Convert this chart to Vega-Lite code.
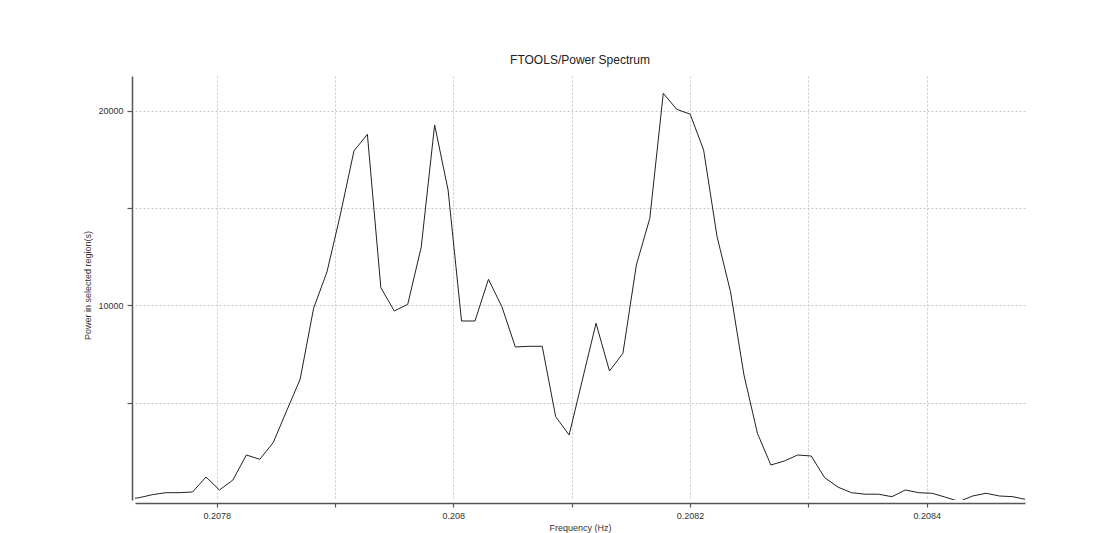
{
  "$schema": "https://vega.github.io/schema/vega-lite/v6.json",
  "autosize": "none",
  "padding": {"left": 135, "top": 76, "right": 87, "bottom": 33},
  "width": 890,
  "height": 424,
  "background": "white",
  "title": {
    "text": "FTOOLS/Power Spectrum",
    "font": "Liberation Sans",
    "fontSize": 12,
    "fontWeight": "normal",
    "color": "#222222",
    "anchor": "middle",
    "baseline": "alphabetic",
    "offset": 0
  },
  "data": {
    "values": [
      {"freq": 0.20772278, "power": 51},
      {"freq": 0.20773415, "power": 113},
      {"freq": 0.20774552, "power": 272},
      {"freq": 0.20775688, "power": 375},
      {"freq": 0.20776825, "power": 375},
      {"freq": 0.20777961, "power": 411},
      {"freq": 0.20779098, "power": 1181},
      {"freq": 0.20780235, "power": 514},
      {"freq": 0.20781371, "power": 1027},
      {"freq": 0.20782508, "power": 2312},
      {"freq": 0.20783644, "power": 2091},
      {"freq": 0.20784781, "power": 2949},
      {"freq": 0.20785918, "power": 4587},
      {"freq": 0.20787054, "power": 6200},
      {"freq": 0.20788191, "power": 9848},
      {"freq": 0.20789327, "power": 11728},
      {"freq": 0.20790464, "power": 14692},
      {"freq": 0.20791601, "power": 17928},
      {"freq": 0.20792737, "power": 18786},
      {"freq": 0.20793874, "power": 10906},
      {"freq": 0.20795010, "power": 9709},
      {"freq": 0.20796147, "power": 10053},
      {"freq": 0.20797284, "power": 12981},
      {"freq": 0.20798420, "power": 19264},
      {"freq": 0.20799557, "power": 15925},
      {"freq": 0.20800693, "power": 9195},
      {"freq": 0.20801830, "power": 9195},
      {"freq": 0.20802967, "power": 11337},
      {"freq": 0.20804103, "power": 9930},
      {"freq": 0.20805240, "power": 7860},
      {"freq": 0.20806376, "power": 7896},
      {"freq": 0.20807513, "power": 7896},
      {"freq": 0.20808650, "power": 4279},
      {"freq": 0.20809786, "power": 3339},
      {"freq": 0.20810923, "power": 6216},
      {"freq": 0.20812059, "power": 9077},
      {"freq": 0.20813196, "power": 6627},
      {"freq": 0.20814333, "power": 7536},
      {"freq": 0.20815469, "power": 12072},
      {"freq": 0.20816606, "power": 14471},
      {"freq": 0.20817742, "power": 20892},
      {"freq": 0.20818879, "power": 20070},
      {"freq": 0.20820016, "power": 19819},
      {"freq": 0.20821152, "power": 17980},
      {"freq": 0.20822289, "power": 13526},
      {"freq": 0.20823425, "power": 10700},
      {"freq": 0.20824562, "power": 6421},
      {"freq": 0.20825699, "power": 3426},
      {"freq": 0.20826835, "power": 1798},
      {"freq": 0.20827972, "power": 2003},
      {"freq": 0.20829108, "power": 2312},
      {"freq": 0.20830245, "power": 2260},
      {"freq": 0.20831382, "power": 1146},
      {"freq": 0.20832518, "power": 658},
      {"freq": 0.20833655, "power": 375},
      {"freq": 0.20834791, "power": 298},
      {"freq": 0.20835928, "power": 298},
      {"freq": 0.20837065, "power": 170},
      {"freq": 0.20838201, "power": 514},
      {"freq": 0.20839338, "power": 375},
      {"freq": 0.20840474, "power": 344},
      {"freq": 0.20841611, "power": 139},
      {"freq": 0.20842748, "power": -77},
      {"freq": 0.20843884, "power": 205},
      {"freq": 0.20845021, "power": 344},
      {"freq": 0.20846157, "power": 205},
      {"freq": 0.20847294, "power": 170},
      {"freq": 0.20848431, "power": 20}
    ]
  },
  "mark": {"type": "line", "color": "#222222", "strokeWidth": 1, "clip": true, "interpolate": "linear"},
  "encoding": {
    "x": {
      "field": "freq",
      "type": "quantitative",
      "scale": {"domain": [0.20773098, 0.20848312], "nice": false, "zero": false},
      "axis": {
        "title": "Frequency (Hz)",
        "values": [0.2078, 0.2079, 0.208, 0.2081, 0.2082, 0.2083, 0.2084],
        "format": "~g",
        "labelExpr": "round(datum.value * 10000) % 2 === 0 ? datum.label : ''",
        "offset": 3,
        "tickSize": 4,
        "labelPadding": 4,
        "titleBaseline": "alphabetic",
        "titleY": 27
      }
    },
    "y": {
      "field": "power",
      "type": "quantitative",
      "scale": {"domain": [0, 21780], "nice": false, "zero": false},
      "axis": {
        "title": "Power in selected region(s)",
        "values": [5000, 10000, 15000, 20000],
        "format": "d",
        "labelExpr": "datum.value % 10000 === 0 ? datum.label : ''",
        "offset": 3,
        "tickSize": 5,
        "labelPadding": 4,
        "titleBaseline": "alphabetic",
        "titleX": -42,
        "titleY": 209
      }
    }
  },
  "config": {
    "view": {"stroke": null},
    "axis": {
      "labelFont": "Liberation Sans",
      "labelFontSize": 9,
      "labelColor": "#333333",
      "titleFont": "Liberation Sans",
      "titleFontSize": 9,
      "titleFontWeight": "normal",
      "titleColor": "#333333",
      "domainColor": "#555555",
      "domainWidth": 1.5,
      "tickColor": "#555555",
      "tickWidth": 1.2,
      "grid": true,
      "gridColor": "#c8c8c8",
      "gridDash": [2, 2],
      "gridWidth": 1
    }
  }
}
